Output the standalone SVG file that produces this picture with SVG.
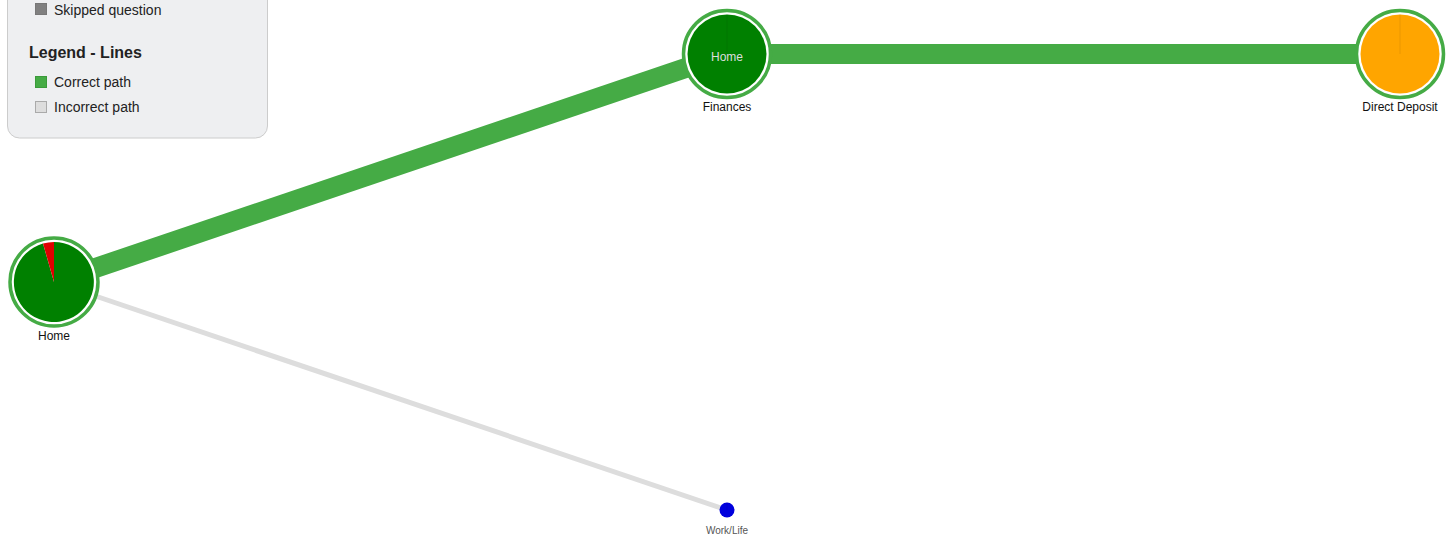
<svg xmlns="http://www.w3.org/2000/svg" width="1453" height="537" viewBox="0 0 1453 537">
<style>
.ring{fill:#fff;stroke:#45ab45;stroke-width:3.5}
.lbl{font-family:"Liberation Sans",Arial,sans-serif;font-size:12px;fill:#111;text-anchor:middle}
.leg{font-family:"Liberation Sans",Arial,sans-serif;font-size:14px;fill:#222}
.sep{stroke:#000;stroke-opacity:0.08;stroke-width:1}
</style>
<rect width="1453" height="537" fill="#fff"/>
<g id="legend">
<rect x="7.5" y="-20" width="260" height="158" rx="12" fill="#eeeff1" stroke="#cccccc"/>
<rect x="35.5" y="3.5" width="11" height="11" fill="#808080" stroke="#777"/>
<text class="leg" x="54" y="15">Skipped question</text>
<text x="29" y="58" font-family="Liberation Sans,Arial,sans-serif" font-size="16" font-weight="bold" fill="#222">Legend - Lines</text>
<rect x="35.5" y="76.5" width="11" height="11" fill="#45ab45" stroke="#3a9a3a"/>
<text class="leg" x="54" y="87">Correct path</text>
<rect x="35.5" y="101.5" width="11" height="11" fill="#dddddd" stroke="#aaa"/>
<text class="leg" x="54" y="112">Incorrect path</text>
</g>
<g id="connectors">
<line x1="54" y1="282" x2="727" y2="510" stroke="#dddddd" stroke-width="5"/>
<line x1="54" y1="282" x2="727" y2="54" stroke="#45ab45" stroke-width="20"/>
<line x1="727" y1="54" x2="1400" y2="54" stroke="#45ab45" stroke-width="20"/>
</g>
<g id="node-home">
<circle class="ring" cx="54" cy="282" r="44"/>
<path d="M54,282 L54,242 A40,40 0 1 1 43,243.5 Z" fill="#008000"/>
<path d="M54,282 L43,243.5 A40,40 0 0 1 54,242 Z" fill="#e00000"/>
<text class="lbl" x="54" y="340">Home</text>
</g>
<g id="node-finances">
<circle class="ring" cx="727" cy="54" r="43.5"/>
<circle cx="727" cy="54" r="39.5" fill="#008000"/>
<line class="sep" x1="727" y1="54" x2="727" y2="14.5"/>
<text x="727" y="61" font-family="Liberation Sans,Arial,sans-serif" font-size="12" fill="#dddddd" text-anchor="middle">Home</text>
<text class="lbl" x="727" y="111">Finances</text>
</g>
<g id="node-direct-deposit">
<circle class="ring" cx="1400" cy="54" r="43.5"/>
<circle cx="1400" cy="54" r="39.5" fill="#ffa500"/>
<line class="sep" x1="1400" y1="54" x2="1400" y2="14.5"/>
<text class="lbl" x="1400" y="111">Direct Deposit</text>
</g>
<g id="node-worklife">
<circle cx="727" cy="510" r="7.5" fill="#0000dd"/>
<line class="sep" x1="727" y1="510" x2="727" y2="502.5"/>
<text x="727" y="534" font-family="Liberation Sans,Arial,sans-serif" font-size="10" fill="#555" text-anchor="middle">Work/Life</text>
</g>
</svg>
